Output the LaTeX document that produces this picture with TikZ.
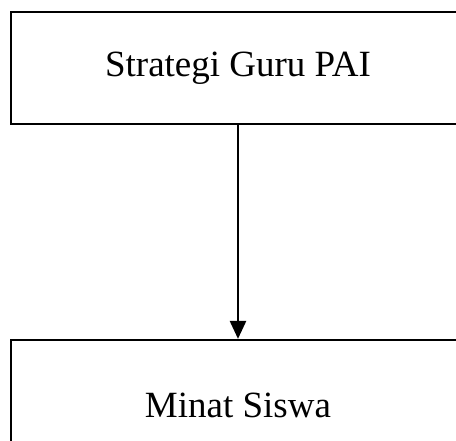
\documentclass[tikz,border=0pt]{standalone}
\usepackage{fontspec}
\setmainfont{Liberation Serif}
\usetikzlibrary{arrows.meta}
\begin{document}
\begin{tikzpicture}[x=1pt,y=1pt,
  boxnode/.style={draw=black, line width=2.2pt, minimum width=454pt, inner sep=0pt, font=\fontsize{37}{40}\selectfont},
  link/.style={line width=2.6pt, -{Triangle[length=18pt,width=16pt]}}]
\useasboundingbox (0,0) rectangle (456,441);
\clip (0,0) rectangle (456,441);
\node[boxnode, minimum height=112pt] (top) at (238,373) {Strategi Guru PAI};
\node[boxnode, minimum height=130pt] (bot) at (238,36) {Minat Siswa};
\draw[link] (top.south) -- (bot.north);
\end{tikzpicture}
\end{document}
